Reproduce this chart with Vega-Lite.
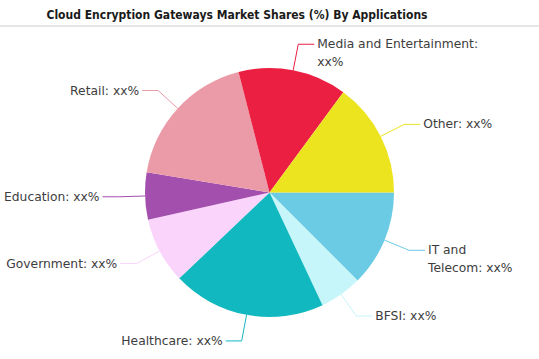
{
  "$schema": "https://vega.github.io/schema/vega-lite/v6.json",
  "width": 539,
  "height": 333,
  "autosize": {"type": "none"},
  "padding": {"top": 26, "left": 0, "right": 0, "bottom": 0},
  "background": "white",
  "config": {"view": {"stroke": null}},
  "title": {
    "text": "Cloud Encryption Gateways Market Shares (%) By Applications",
    "anchor": "start",
    "dx": 47,
    "dy": 14,
    "offset": 9,
    "baseline": "alphabetic",
    "font": "DejaVu Sans Condensed, Liberation Sans Narrow, sans-serif",
    "fontSize": 12,
    "fontWeight": "bold",
    "color": "#1a1a1a"
  },
  "data": {
    "values": [
      {"order": 1, "category": "IT and Telecom", "value": 12.5, "label": "IT and\nTelecom: xx%"},
      {"order": 2, "category": "BFSI", "value": 5.5, "label": "BFSI: xx%"},
      {"order": 3, "category": "Healthcare", "value": 19.9, "label": "Healthcare: xx%"},
      {"order": 4, "category": "Government", "value": 8.6, "label": "Government: xx%"},
      {"order": 5, "category": "Education", "value": 6.1, "label": "Education: xx%"},
      {"order": 6, "category": "Retail", "value": 18.4, "label": "Retail: xx%"},
      {"order": 7, "category": "Media and Entertainment", "value": 14.1, "label": "Media and Entertainment:\nxx%"},
      {"order": 8, "category": "Other", "value": 14.9, "label": "Other: xx%"}
    ]
  },
  "transform": [
    {"window": [{"op": "sum", "field": "value", "as": "cum"}], "sort": [{"field": "order"}], "frame": [null, 0]},
    {"joinaggregate": [{"op": "sum", "field": "value", "as": "total"}]},
    {"calculate": "2 * PI * (datum.cum - datum.value / 2) / datum.total", "as": "mid"},
    {"calculate": "cos(datum.mid)", "as": "ux"},
    {"calculate": "-sin(datum.mid)", "as": "uy"},
    {"calculate": "124.5 * datum.ux", "as": "x0"},
    {"calculate": "124.5 * datum.uy", "as": "y0"},
    {"calculate": "151 * datum.ux", "as": "x1"},
    {"calculate": "151 * datum.uy", "as": "y1"},
    {"calculate": "datum.x1 + (datum.ux >= 0 ? 16 : -16)", "as": "xe"},
    {"calculate": "datum.xe + (datum.ux >= 0 ? 3 : -3)", "as": "xt"}
  ],
  "layer": [
    {
      "mark": {"type": "arc", "radius": 124.5},
      "encoding": {
        "theta": {"field": "value", "type": "quantitative", "stack": true, "scale": {"range": [1.5707963, 7.8539816]}},
        "order": {"field": "order", "type": "quantitative"},
        "color": {
          "field": "category", "type": "nominal", "legend": null,
          "scale": {
            "domain": ["IT and Telecom", "BFSI", "Healthcare", "Government", "Education", "Retail", "Media and Entertainment", "Other"],
            "range": ["#6ccbe4", "#c6f6f9", "#12b8bf", "#fad4fa", "#a24fad", "#eb9ba8", "#eb1f42", "#ece41f"]
          }
        }
      }
    },
    {
      "mark": {"type": "rule", "strokeWidth": 1},
      "encoding": {
        "x": {"field": "x0", "type": "quantitative", "scale": {"domain": [-269.5, 269.5], "nice": false, "zero": false}, "axis": null},
        "y": {"field": "y0", "type": "quantitative", "scale": {"domain": [-166.5, 166.5], "nice": false, "zero": false}, "axis": null},
        "x2": {"field": "x1"},
        "y2": {"field": "y1"},
        "color": {"field": "category", "type": "nominal", "legend": null}
      }
    },
    {
      "mark": {"type": "rule", "strokeWidth": 1},
      "encoding": {
        "x": {"field": "x1", "type": "quantitative"},
        "y": {"field": "y1", "type": "quantitative"},
        "x2": {"field": "xe"},
        "y2": {"field": "y1"},
        "color": {"field": "category", "type": "nominal", "legend": null}
      }
    },
    {
      "mark": {
        "type": "text",
        "font": "DejaVu Sans",
        "fontSize": 12.3,
        "color": "#3d3d3d",
        "lineBreak": "\n",
        "lineHeight": 18,
        "baseline": "middle",
        "align": {"expr": "datum.ux >= 0 ? 'left' : 'right'"}
      },
      "encoding": {
        "x": {"field": "xt", "type": "quantitative"},
        "y": {"field": "y1", "type": "quantitative"},
        "text": {"field": "label"}
      }
    },
    {
      "mark": {"type": "rule", "color": "#e6e6e6", "strokeWidth": 1},
      "encoding": {
        "y": {"datum": 166.5, "type": "quantitative"}
      }
    }
  ]
}
